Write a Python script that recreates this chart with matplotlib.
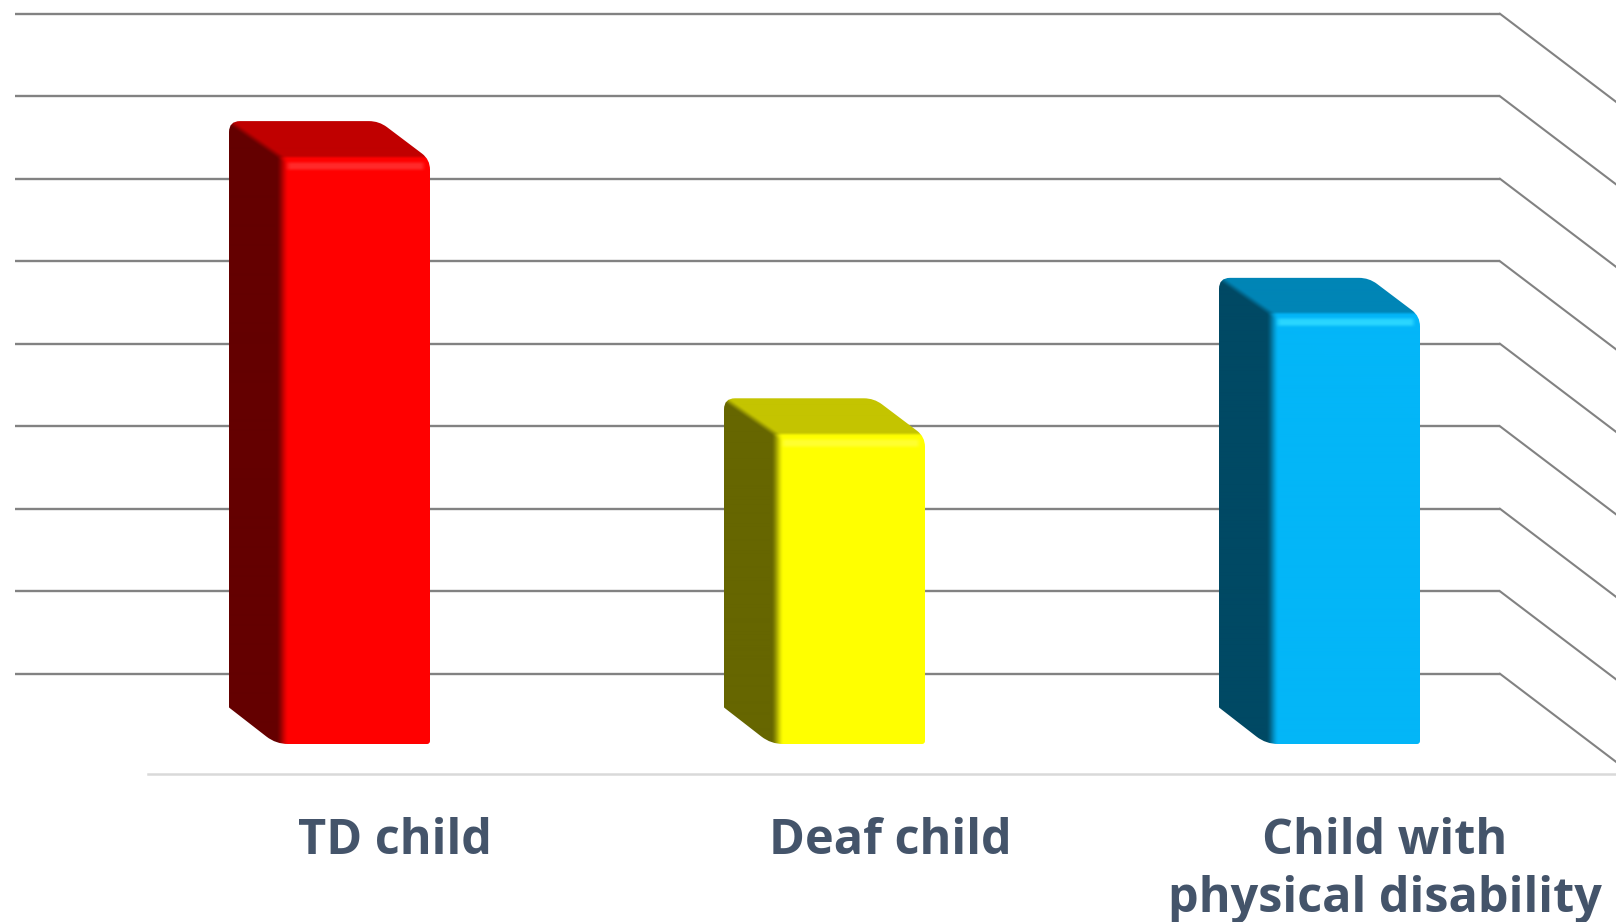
import numpy as np
import matplotlib
matplotlib.use('Agg')
import matplotlib.pyplot as plt
from matplotlib.path import Path

categories = ['TD child', 'Deaf child', 'Child with\nphysical disability']
values = [7.12, 3.76, 5.22]
grid_levels = [1, 2, 3, 4, 5, 6, 7, 8, 9]

front_colors = ['#ff0000', '#ffff00', '#03b6f8']
top_colors = ['#c00000', '#c4c400', '#0085b6']
side_colors = ['#640000', '#666600', '#004964']
strip_colors = ['#ff2a2a', '#ffff30', '#2ad6ff']

# pixels per unit on each axis
sx = 495.0
sy = 82.5
bar_w = 150 / sx
depth_x = 51 / sx
depth_y = 34.5 / sy
wall_floor = -13.3 / sy


def rgb(c):
    return np.array(matplotlib.colors.to_rgb(c))


def smooth(a, b, x):
    t = np.clip((x - a) / (b - a), 0, 1)
    return t * t * (3 - 2 * t)


def bar_image(h_px, front, top, side, strip):
    # one pixel per cell, x=0 is the front left edge, y=0 the back top edge
    X, Y = np.meshgrid(np.arange(-51, 150) + 0.5, np.arange(0, int(h_px) + 35) + 0.5)
    diag = Y - 35 * (X + 51) / 51
    back = np.dstack([rgb(top)[i] + (rgb(side)[i] - rgb(top)[i]) * smooth(-4, 5, diag) for i in range(3)])
    w = smooth(-4, 9, X) * smooth(34, 38, Y)
    bump = smooth(39, 44, Y) * (1 - smooth(46, 51, Y)) * smooth(3, 12, X) * (1 - smooth(140, 147, X))
    img = np.zeros(X.shape + (3,))
    for i in range(3):
        f = rgb(front)[i] + (rgb(strip)[i] - rgb(front)[i]) * bump
        img[:, :, i] = back[:, :, i] + (f - back[:, :, i]) * w
    return img


def rounded(verts, radii):
    # polygon with rounded corners, radii in pixels
    verts = [np.array(v) for v in verts]
    scale = np.array([sx, sy])
    codes = []
    out = []
    n = len(verts)
    for i in range(n):
        v = verts[i] * scale
        a = verts[i - 1] * scale - v
        b = verts[(i + 1) % n] * scale - v
        p0 = v + a / np.linalg.norm(a) * radii[i]
        p1 = v + b / np.linalg.norm(b) * radii[i]
        out += [p0 / scale, v / scale, p1 / scale]
        codes += [Path.MOVETO if i == 0 else Path.LINETO, Path.CURVE3, Path.CURVE3]
    out.append(out[0])
    codes.append(Path.CLOSEPOLY)
    return Path(out, codes)


fig = plt.figure(figsize=(16.16, 9.22), dpi=100)
ax = fig.add_axes([0, 0, 1, 1])
ax.axis('off')

x0 = -355 / sx
x_wall = (1500 - 355) / sx
x_end = (1700 - 355) / sx
x_grid = (15 - 355) / sx

for g in grid_levels:
    y = g + wall_floor
    ax.plot([x_grid, x_wall], [y, y], color='#828282', lw=1.7, solid_capstyle='butt', zorder=1)
    ax.plot([x_wall, x_end], [y, y - (200 * 88 / 116) / sy], color='#828282', lw=1.5, zorder=1)

ax.plot([(148 - 355) / sx, x_end], [-31 / sy, -31 / sy], color='#d9d9d9', lw=1.8, zorder=1)

for i, v in enumerate(values):
    left = i - bar_w / 2
    right = i + bar_w / 2
    img = bar_image(v * sy, front_colors[i], top_colors[i], side_colors[i], strip_colors[i])
    im = ax.imshow(img, extent=(left - depth_x, right, -1 / sy, v + depth_y), origin='upper',
                   aspect='auto', interpolation='bilinear', zorder=2)
    outline = rounded([(left - depth_x, v + depth_y), (right - depth_x, v + depth_y),
                       (right, v - 4 / sy), (right, -1 / sy),
                       (left - 4 / sx, -1 / sy), (left - depth_x, depth_y + 1 / sy)],
                      [11, 10, 10, 3, 12, 0.5])
    im.set_clip_path(outline, ax.transData)

    lines = categories[i].split('\n')
    for k, line in enumerate(lines):
        ax.text(i + 40 / sx, (-111 - 58 * k) / sy, line, ha='center', va='baseline', color='#44546a',
                fontsize=35, fontweight='bold', family='Open Sans', zorder=3)

ax.set_xlim(x0, (1616 - 355) / sx)
ax.set_ylim(-179 / sy, 743 / sy)

fig.savefig('out.png', dpi=100)
